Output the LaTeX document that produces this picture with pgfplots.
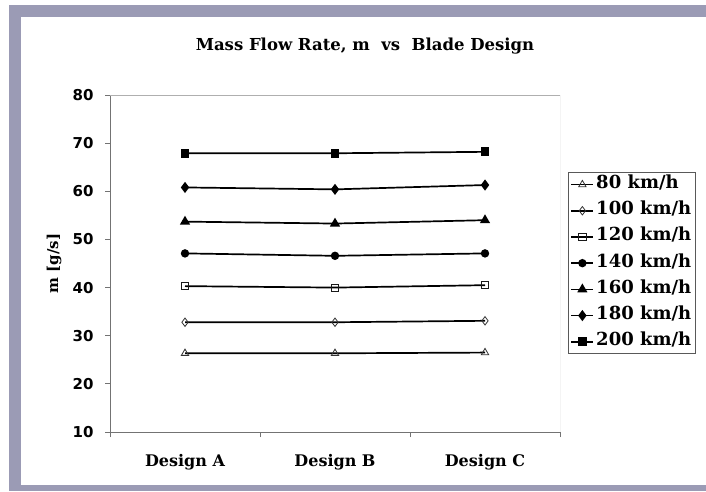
\documentclass[border=0pt]{standalone}
\usepackage{pgfplots}
\pgfplotsset{compat=1.18}
\usepackage{pgfplotstable}
\usepackage{fontspec}
\setmainfont{DejaVu Serif}
\newfontfamily\ticksans{DejaVu Sans}

\definecolor{framelav}{RGB}{155,155,181}
\definecolor{axisgray}{RGB}{115,115,115}
\definecolor{boxgray}{RGB}{175,175,175}

% mass flow rate [g/s] per blade design, one column per vehicle speed
\pgfplotstableread{
x    s80   s100  s120  s140  s160  s180  s200
0.5  26.35 32.8  40.3  47.1  53.7  60.8  67.9
1.5  26.35 32.8  40.0  46.6  53.3  60.4  67.9
2.5  26.5  33.1  40.5  47.1  54.0  61.3  68.2
}\massflow

\begin{document}
\begin{tikzpicture}[x=1pt,y=1pt]
\useasboundingbox (0,0) rectangle (706,-491);
\fill[white] (0,0) rectangle (706,-491);
\fill[framelav] (9,-5) rectangle (706,-491);
\fill[white] (21,-17) rectangle (706,-485);

\node[font=\bfseries\fontsize{16.5}{18}\selectfont] at (365,-46)
  {Mass Flow Rate, m\ \ vs\ \ Blade Design};

\begin{axis}[
  at={(110pt,-432pt)}, anchor=south west,
  scale only axis, width=450pt, height=337pt,
  xmin=0, xmax=3, ymin=10, ymax=80,
  axis x line*=bottom, axis y line*=left,
  axis line style={axisgray, line width=1pt, -},
  tick align=outside,
  major tick length=5pt, minor tick length=5pt,
  ytick={10,20,...,80},
  y tick style={axisgray, line width=1pt},
  /pgf/number format/assume math mode=true,
  yticklabel style={font=\ticksans\bfseries\fontsize{15}{15}\selectfont, xshift=-8pt},
  xtick={0.5,1.5,2.5},
  xticklabels={Design A, Design B, Design C},
  major x tick style={draw=none},
  minor xtick={0,1,2,3},
  minor x tick style={axisgray, line width=1pt},
  xticklabel style={font=\bfseries\fontsize{16}{16}\selectfont, anchor=base, yshift=-29pt},
  ylabel={m [g/s]},
  ylabel style={font=\bfseries\fontsize{15}{15}\selectfont, at={(axis description cs:-0.124,0.5)}, anchor=center},
  legend cell align=left,
  legend style={
    at={(1.0178,0.7714)}, anchor=north west,
    draw=black!65, line width=1pt,
    font=\bfseries\fontsize{18}{18}\selectfont,
    nodes={inner sep=2pt, text height=12pt, text depth=4pt},
    row sep=6.2pt, inner sep=2pt,
  },
  legend image code/.code={
    \draw[mark repeat=2, mark phase=2] plot coordinates {(0pt,0pt) (11pt,0pt) (22pt,0pt)};
  },
  every axis plot/.append style={black, line width=1.7pt},
]
\draw[boxgray, line width=1pt] (rel axis cs:0,1) -- (rel axis cs:1,1) -- (rel axis cs:1,0);

\addplot[mark=triangle, mark size=4.2pt, mark options={fill=white, draw=black!80, line width=0.8pt, solid}]
  table[x=x, y=s80] {\massflow};
\addlegendentry{80 km/h}
\addplot[mark=diamond, mark size=4.2pt, mark options={fill=white, draw=black!80, line width=0.8pt, solid}]
  table[x=x, y=s100] {\massflow};
\addlegendentry{100 km/h}
\addplot[mark=square, mark size=3.6pt, mark options={fill=white, draw=black!90, line width=0.8pt, solid}]
  table[x=x, y=s120] {\massflow};
\addlegendentry{120 km/h}
\addplot[mark=*, mark size=3.3pt, mark options={fill=black, solid}]
  table[x=x, y=s140] {\massflow};
\addlegendentry{140 km/h}
\addplot[mark=triangle*, mark size=4.2pt, mark options={fill=black, solid}]
  table[x=x, y=s160] {\massflow};
\addlegendentry{160 km/h}
\addplot[mark=diamond*, mark size=4.2pt, mark options={fill=black, solid}]
  table[x=x, y=s180] {\massflow};
\addlegendentry{180 km/h}
\addplot[mark=square*, mark size=3.6pt, mark options={fill=black, solid}]
  table[x=x, y=s200] {\massflow};
\addlegendentry{200 km/h}
\end{axis}
\end{tikzpicture}
\end{document}
